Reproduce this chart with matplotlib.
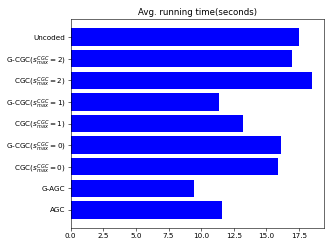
import matplotlib
matplotlib.use('Agg')
import matplotlib.pyplot as plt

# bottom to top
methods = ['AGC', 'G-AGC',
           r'CGC($s_{max}^{CGC}=0$)', r'G-CGC($s_{max}^{CGC}=0$)',
           r'CGC($s_{max}^{CGC}=1$)', r'G-CGC($s_{max}^{CGC}=1$)',
           r'CGC($s_{max}^{CGC}=2$)', r'G-CGC($s_{max}^{CGC}=2$)',
           'Uncoded']
times = [11.63, 9.42, 15.9, 16.15, 13.2, 11.38, 18.47, 17.0, 17.5]

fig = plt.figure(figsize=(6.4, 4.8), dpi=51.875)
ax = fig.add_subplot(111)
fig.subplots_adjust(left=0.213, right=0.975, top=0.924, bottom=0.084)

ax.barh(range(len(methods)), times, color='blue')
ax.set_yticks(range(len(methods)))
ax.set_yticklabels(methods)
ax.set_title('Avg. running time(seconds)')

fig.savefig('out.png', dpi=51.875)
